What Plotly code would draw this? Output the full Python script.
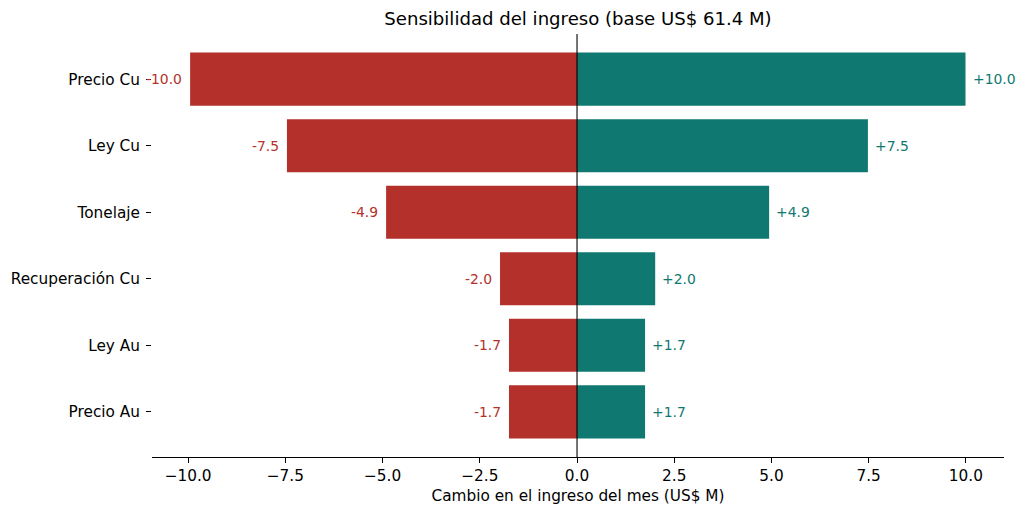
import plotly.graph_objects as go

categories = ["Precio Cu", "Ley Cu", "Tonelaje", "Recuperación Cu", "Ley Au", "Precio Au"]
low_values = [-9.95, -7.46, -4.91, -1.98, -1.75, -1.75]
high_values = [9.99, 7.48, 4.94, 2.01, 1.75, 1.75]
low_labels = ["-10.0", "-7.5", "-4.9", "-2.0", "-1.7", "-1.7"]
high_labels = ["+10.0", "+7.5", "+4.9", "+2.0", "+1.7", "+1.7"]
x_ticks = [-10.0, -7.5, -5.0, -2.5, 0.0, 2.5, 5.0, 7.5, 10.0]

RED = "#b3312a"
TEAL = "#0f7870"
FONT = "DejaVu Sans"
TICK = 15.3

fig = go.Figure()
fig.add_trace(go.Bar(y=categories, x=low_values, orientation="h", marker_color=RED,
                     marker_line_width=0, width=0.8, showlegend=False))
fig.add_trace(go.Bar(y=categories, x=high_values, orientation="h", marker_color=TEAL,
                     marker_line_width=0, width=0.8, showlegend=False))

for c, lo, hi, lt, ht in zip(categories, low_values, high_values, low_labels, high_labels):
    fig.add_annotation(x=lo, y=c, text=lt, showarrow=False, xanchor="right",
                       xshift=-6, font=dict(family=FONT, size=13.9, color=RED))
    fig.add_annotation(x=hi, y=c, text=ht, showarrow=False, xanchor="left",
                       xshift=5, font=dict(family=FONT, size=13.9, color=TEAL))

fig.add_shape(type="line", xref="x", yref="paper", x0=0, x1=0, y0=0, y1=1,
              line=dict(color="black", width=1.1), layer="above")

fig.update_layout(
    width=1025, height=515,
    margin=dict(l=152, r=21, t=34, b=58),
    barmode="overlay",
    plot_bgcolor="white", paper_bgcolor="white",
    font=dict(family=FONT, size=TICK, color="black"),
    title=dict(text="Sensibilidad del ingreso (base US$ 61.4 M)", x=0.5, xref="paper",
               xanchor="center", y=1 - 19 / 515, yanchor="middle",
               font=dict(family=FONT, size=18.1, color="black")),
    xaxis=dict(range=[-10.93, 10.98], tickvals=x_ticks, tickformat=".1f",
               showline=True, linecolor="black", linewidth=1.1, ticks="outside",
               ticklen=5, tickwidth=1.1, tickcolor="black", showgrid=False, zeroline=False,
               title=dict(text="Cambio en el ingreso del mes (US$ M)", standoff=5,
                          font=dict(family=FONT, size=TICK)),
               tickfont=dict(family=FONT, size=TICK)),
    yaxis=dict(categoryorder="array", categoryarray=categories, range=[5.68, -0.68],
               showline=False, ticks="outside", ticklen=5, tickwidth=1.1, tickcolor="black",
               ticklabelstandoff=3,
               showgrid=False, zeroline=False, tickfont=dict(family=FONT, size=TICK)),
)

fig.write_html("out.html")
